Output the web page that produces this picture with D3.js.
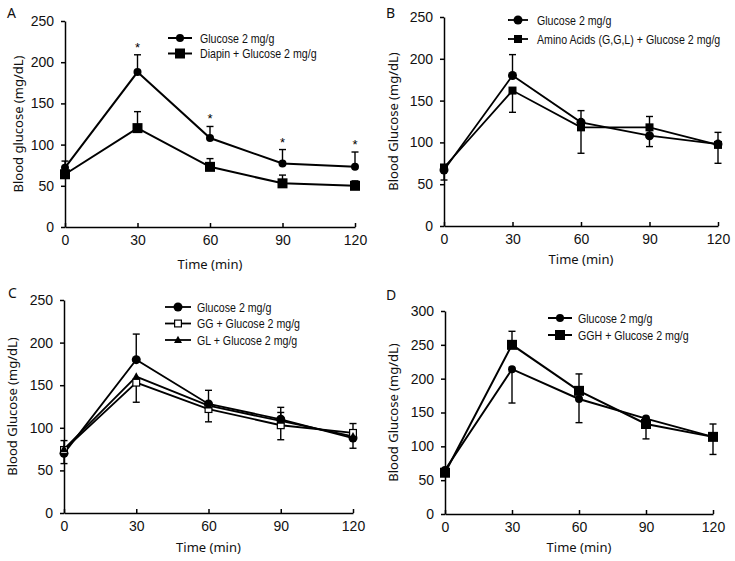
<!DOCTYPE html>
<html><head><meta charset="utf-8">
<script src="https://cdn.jsdelivr.net/npm/d3@7"></script>
<style>
body{margin:0;background:#fff;}
svg{display:block;}
.tick text{font-family:"Liberation Sans",Arial,sans-serif;font-size:14px;fill:#111;}
.ttl{font-family:"Noto Sans","Open Sans",sans-serif;font-size:13px;fill:#111;}
.lg{font-family:"Liberation Sans",Arial,sans-serif;font-size:12.5px;fill:#111;}
</style></head>
<body>
<script>
// ---------------- data ----------------
const times = [0, 30, 60, 90, 120];
const timeTicks = [0, 30, 60, 90, 120];
const yTicks250 = [0, 50, 100, 150, 200, 250];
const yTicks300 = [0, 50, 100, 150, 200, 250, 300];

// Panel A
const aGlucose = [72, 188, 108, 77, 73];
const aGlucoseUp = [8, 21, 14, 17, 18];
const aDiapin = [64, 120, 73, 53, 50];
const aDiapinUp = [4, 20, 10, 10, 6];
const aStars = [false, true, true, true, true];

// Panel B
const bGlucose = [67, 180, 124, 108, 98];
const bGlucoseUp = [0, 25, 14, 13, 14];
const bGlucoseDown = [12, 0, 0, 13, 0];
const bAmino = [70, 162, 118, 118, 97];
const bAminoUp = [0, 0, 0, 13, 0];
const bAminoDown = [0, 26, 31, 0, 22];

// Panel C
const cGlucose = [70, 180, 128, 110, 88];
const cGlucoseUp = [15, 30, 16, 14, 0];
const cGlucoseDown = [0, 0, 0, 0, 12];
const cGG = [74, 153, 122, 103, 94];
const cGGUp = [0, 0, 0, 0, 11];
const cGGDown = [16, 23, 15, 17, 0];
const cGL = [75, 160, 126, 108, 90];
const cGLUp = [0, 0, 0, 10, 0];
const cGLDown = [0, 0, 0, 0, 0];

// Panel D
const dGlucose = [65, 214, 170, 141, 114];
const dGlucoseUp = [0, 0, 0, 0, 0];
const dGlucoseDown = [0, 50, 35, 0, 0];
const dGGH = [61, 250, 182, 133, 114];
const dGGHUp = [0, 20, 25, 0, 19];
const dGGHDown = [0, 0, 0, 22, 26];

// --------------- drawing ---------------
const svg = d3.select("body").append("svg").attr("width", 735).attr("height", 561);

function marker(g, type, cx, cy, size) {
  if (type === "circle") {
    g.append("circle").attr("cx", cx).attr("cy", cy).attr("r", size / 2).attr("fill", "#000");
  } else if (type === "square") {
    g.append("rect").attr("x", cx - size / 2).attr("y", cy - size / 2).attr("width", size).attr("height", size).attr("fill", "#000");
  } else if (type === "osquare") {
    g.append("rect").attr("x", cx - size / 2 + 0.6).attr("y", cy - size / 2 + 0.6).attr("width", size - 1.2).attr("height", size - 1.2)
      .attr("fill", "#fff").attr("stroke", "#000").attr("stroke-width", 1.2);
  } else if (type === "triangle") {
    const h = size * 0.9;
    g.append("path").attr("d", `M${cx},${cy - h * 0.6}L${cx + size / 2},${cy + h * 0.4}L${cx - size / 2},${cy + h * 0.4}Z`).attr("fill", "#000");
  }
}

function panel(cfg) {
  const x = d3.scaleLinear().domain([0, 120]).range([cfg.x0, cfg.x1]);
  const y = d3.scaleLinear().domain([0, cfg.ymax]).range([cfg.y0, cfg.y1]);
  const g = svg.append("g");

  const ya = d3.axisLeft(y).tickValues(cfg.yTicks).tickSizeInner(4).tickSizeOuter(0).tickPadding(7);
  g.append("g").attr("transform", `translate(${cfg.x0},0)`).call(ya)
    .call(s => s.selectAll("path,line").attr("stroke", "#000").attr("stroke-width", 1.5));
  const xa = d3.axisBottom(x).tickValues(timeTicks).tickSizeInner(-4).tickSizeOuter(0).tickPadding(8);
  g.append("g").attr("transform", `translate(0,${cfg.y0})`).call(xa)
    .call(s => s.selectAll("path,line").attr("stroke", "#000").attr("stroke-width", 1.5));

  // error bars
  cfg.series.forEach(se => {
    times.forEach((t, i) => {
      const cx = x(t);
      [[se.up, 1], [se.down, -1]].forEach(([arr, dir]) => {
        if (!arr || !arr[i]) return;
        const v0 = y(se.values[i]), v1 = y(se.values[i] + dir * arr[i]);
        g.append("line").attr("x1", cx).attr("x2", cx).attr("y1", v0).attr("y2", v1).attr("stroke", "#000").attr("stroke-width", 1.4);
        g.append("line").attr("x1", cx - 3.5).attr("x2", cx + 3.5).attr("y1", v1).attr("y2", v1).attr("stroke", "#000").attr("stroke-width", 1.4);
      });
    });
  });
  // lines
  const line = d3.line().x((d, i) => x(times[i])).y(d => y(d));
  cfg.series.forEach(se => {
    g.append("path").attr("d", line(se.values)).attr("fill", "none").attr("stroke", "#000").attr("stroke-width", cfg.lw);
  });
  cfg.series.forEach(se => {
    se.values.forEach((v, i) => marker(g, se.marker, x(times[i]), y(v), se.size));
  });
  // stars
  if (cfg.stars) {
    cfg.stars.flags.forEach((f, i) => {
      if (!f) return;
      const top = cfg.stars.series.values[i] + cfg.stars.series.up[i];
      g.append("text").attr("x", x(times[i])).attr("y", y(top) - 3).attr("text-anchor", "middle")
        .attr("font-family", "Liberation Sans, Arial, sans-serif").attr("font-size", 13).text("*");
    });
  }
  // legend
  cfg.series.forEach((se, k) => {
    const ly = cfg.leg.y + k * cfg.leg.dy;
    g.append("line").attr("x1", cfg.leg.x).attr("x2", cfg.leg.x + cfg.leg.w).attr("y1", ly).attr("y2", ly).attr("stroke", "#000").attr("stroke-width", cfg.lw);
    marker(g, se.marker, cfg.leg.x + cfg.leg.w / 2, ly, se.size);
    g.append("text").attr("class", "lg")
      .attr("transform", `translate(${cfg.leg.x + cfg.leg.w + cfg.leg.gap},${ly + 4.5}) scale(0.85,1)`).text(se.name);
  });
  // titles
  g.append("text").attr("class", "ttl").attr("text-anchor", "middle")
    .attr("transform", `translate(${cfg.ytx},${(cfg.y0 + cfg.y1) / 2}) rotate(-90)`).text(cfg.ytitle);
  g.append("text").attr("class", "ttl").attr("text-anchor", "middle").attr("x", (cfg.x0 + cfg.x1) / 2).attr("y", cfg.xty).text("Time (min)");
  g.append("text").attr("class", "ttl").attr("x", cfg.lx).attr("y", cfg.ly).style("font-size", "14px").text(cfg.letter);
}

const sA1 = {name: "Glucose 2 mg/g", values: aGlucose, up: aGlucoseUp, marker: "circle", size: 8};
panel({
  x0: 65, x1: 355, y0: 227, y1: 21, ymax: 250, yTicks: yTicks250, lw: 2,
  series: [sA1, {name: "Diapin + Glucose 2 mg/g", values: aDiapin, up: aDiapinUp, marker: "square", size: 10}],
  stars: {flags: aStars, series: sA1},
  leg: {x: 168, w: 24, gap: 8, y: 38, dy: 15.5},
  ytitle: "Blood glucose (mg/dL)", ytx: 23, xty: 269, letter: "A", lx: 7, ly: 18
});
panel({
  x0: 444, x1: 718, y0: 226, y1: 17, ymax: 250, yTicks: yTicks250, lw: 1.8,
  series: [
    {name: "Glucose 2 mg/g", values: bGlucose, up: bGlucoseUp, down: bGlucoseDown, marker: "circle", size: 9},
    {name: "Amino Acids (G,G,L) + Glucose 2 mg/g", values: bAmino, up: bAminoUp, down: bAminoDown, marker: "square", size: 8}
  ],
  leg: {x: 508, w: 20, gap: 9, y: 20, dy: 19},
  ytitle: "Blood Glucose (mg/dL)", ytx: 398, xty: 264, letter: "B", lx: 386, ly: 18
});
panel({
  x0: 64, x1: 353, y0: 513, y1: 300, ymax: 250, yTicks: yTicks250, lw: 1.8,
  series: [
    {name: "Glucose 2 mg/g", values: cGlucose, up: cGlucoseUp, down: cGlucoseDown, marker: "circle", size: 9},
    {name: "GG + Glucose 2 mg/g", values: cGG, up: cGGUp, down: cGGDown, marker: "osquare", size: 8},
    {name: "GL + Glucose 2 mg/g", values: cGL, up: cGLUp, down: cGLDown, marker: "triangle", size: 8}
  ],
  leg: {x: 165, w: 26, gap: 6, y: 307, dy: 16.5},
  ytitle: "Blood Glucose (mg/dL)", ytx: 17, xty: 552, letter: "C", lx: 8, ly: 298
});
panel({
  x0: 445, x1: 713, y0: 514, y1: 311, ymax: 300, yTicks: yTicks300, lw: 2,
  series: [
    {name: "Glucose 2 mg/g", values: dGlucose, up: dGlucoseUp, down: dGlucoseDown, marker: "circle", size: 8},
    {name: "GGH + Glucose 2 mg/g", values: dGGH, up: dGGHUp, down: dGGHDown, marker: "square", size: 10}
  ],
  leg: {x: 548, w: 24, gap: 6, y: 318, dy: 17},
  ytitle: "Blood Glucose (mg/dL)", ytx: 398, xty: 552, letter: "D", lx: 386, ly: 300
});
</script>
</body></html>
